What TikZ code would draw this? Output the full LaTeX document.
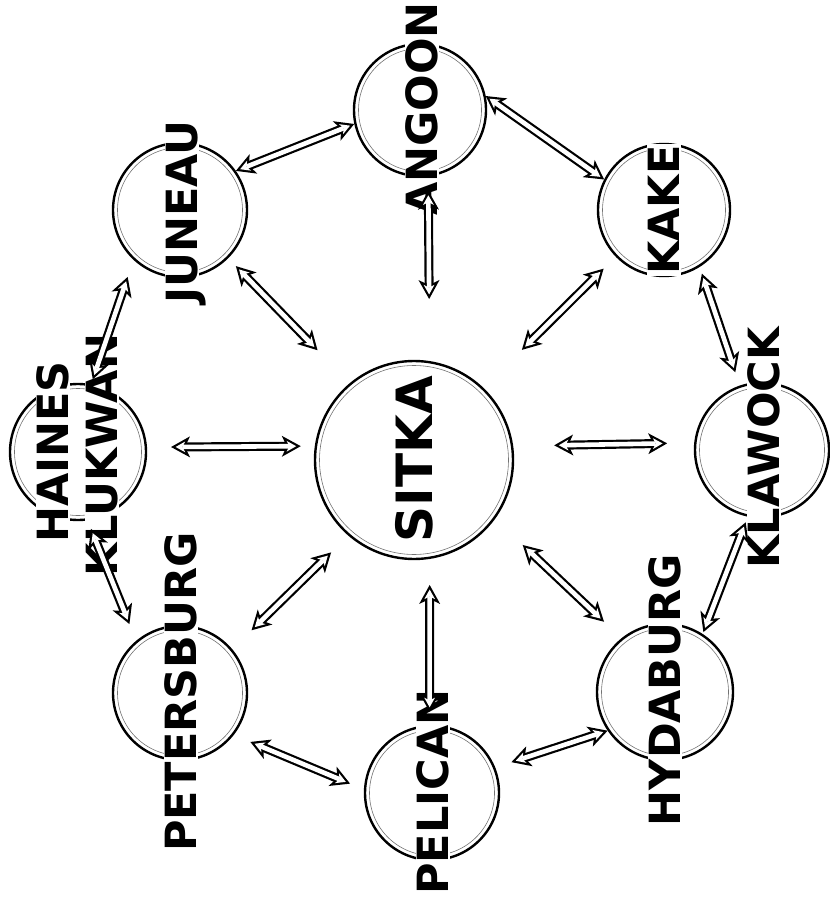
\documentclass[tikz,border=0pt]{standalone}
\usepackage{fontspec}
\newfontfamily\labfont{DejaVu Sans}
\usetikzlibrary{arrows.meta}
\newcommand\linkpair[4]{%
  \draw[arrout, shorten <=#3, shorten >=#4] (#1) -- (#2);
  \draw[arrin, shorten <=#3+4.6pt, shorten >=#4+4.6pt] (#1) -- (#2);}
\begin{document}
\begin{tikzpicture}[x=1pt,y=-1pt,
 city/.style={circle, draw, line width=2.4pt, minimum size=2*#1, inner sep=0pt,
   path picture={\draw[line width=0.6pt, black!55] (path picture bounding box.center) circle[radius=#1-4.5pt];}},
 lbl/.style={rotate=90, fill=white, inner sep=1.5pt, text height=31.4pt, text depth=0pt,
   font=\labfont\bfseries\fontsize{43}{50}\selectfont},
 big/.style={text height=36.5pt, font=\labfont\bfseries\fontsize{50}{58}\selectfont},
 headout/.tip={Stealth[length=19pt, width=21pt, inset=5pt, line width=0pt]},
 headin/.tip={Stealth[length=9.6pt, width=10.8pt, inset=2.7pt, line width=0pt]},
 arrout/.style={draw=black, line width=9pt, {headout}-{headout}},
 arrin/.style={draw=white, line width=4.6pt, {headin}-{headin}}]
\useasboundingbox (0,0) rectangle (829,901);
% circles
\node[city=99pt] (sitka) at (414,460) {};
\node[city=66pt] (angoon) at (420,110) {};
\node[city=67pt] (juneau) at (180,210) {};
\node[city=66pt] (kake) at (664,210) {};
\node[city=68pt] (haines) at (78,452) {};
\node[city=67pt] (klawock) at (762,450) {};
\node[city=68pt] (hydaburg) at (665,692) {};
\node[city=67pt] (pelican) at (432,793) {};
\node[city=67pt] (petersburg) at (180,693) {};
% labels
\node[lbl] (tjuneau) at (182,212) {JUNEAU};
\node[lbl] (tangoon) at (422,109) {ANGOON};
\node[lbl] (tkake) at (664,210) {KAKE};
\node[lbl] (thaines) at (53,452) {HAINES};
\node[lbl] (tklukwan) at (102,455) {KLUKWAN};
\node[lbl, big] (tsitka) at (414,459) {SITKA};
\node[lbl] (tklawock) at (764,448) {KLAWOCK};
\node[lbl] (thydaburg) at (665,690) {HYDABURG};
\node[lbl] (tpelican) at (433,792) {PELICAN};
\node[lbl] (tpetersburg) at (181,692) {PETERSBURG};
% connectors
\linkpair{juneau.35}{angoon.192}{0pt}{0pt}
\linkpair{angoon.12}{kake.153}{0pt}{0pt}
\linkpair{angoon.-83}{sitka.81}{14pt}{62pt}
\linkpair{juneau.-45}{sitka.130}{11pt}{46pt}
\linkpair{kake.224}{sitka.46}{17pt}{54pt}
\linkpair{haines.4}{sitka.172}{24pt}{14pt}
\linkpair{sitka.8}{klawock.174}{41pt}{27pt}
\linkpair{juneau.227}{haines.79}{18pt}{5pt}
\linkpair{kake.-58}{klawock.109}{7pt}{14pt}
\linkpair{haines.-82}{petersburg.130}{9pt}{18pt}
\linkpair{klawock.-102}{hydaburg.57}{6pt}{2pt}
\linkpair{sitka.229}{petersburg.40}{24pt}{27pt}
\linkpair{sitka.-36}{hydaburg.129}{38pt}{24pt}
\linkpair{sitka.-81}{pelican.92}{26pt}{13pt}
\linkpair{petersburg.-38}{pelican.177}{18pt}{15pt}
\linkpair{pelican.22}{hydaburg.214}{17pt}{0pt}
\end{tikzpicture}
\end{document}
